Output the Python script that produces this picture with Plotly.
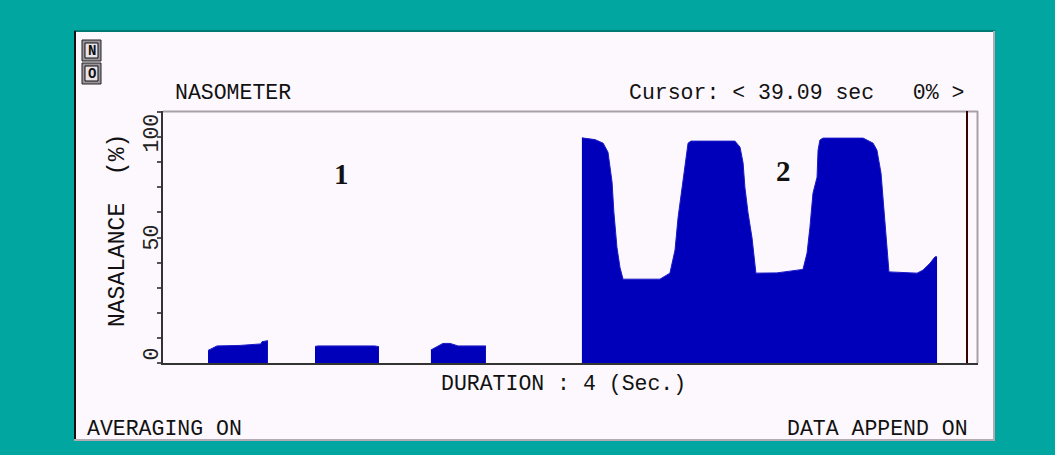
import plotly.graph_objects as go

W, H = 1055, 455

# ---- data (time in seconds, nasalance in %) ----
seg1_t = [0.221, 0.235, 0.265, 0.378, 0.480, 0.486, 0.506, 0.515]
seg1_v = [5.0, 5.5, 6.8, 7.0, 7.6, 8.5, 8.9, 8.9]

seg2_t = [0.746, 0.760, 1.040, 1.060]
seg2_v = [6.6, 6.8, 6.8, 6.5]

seg3_t = [1.315, 1.330, 1.340, 1.374, 1.409, 1.448, 1.472, 1.585]
seg3_v = [5.2, 5.8, 6.5, 7.8, 7.8, 6.8, 6.8, 6.8]

seg4_t = [2.056, 2.120, 2.160, 2.184, 2.204, 2.213, 2.228, 2.243, 2.258, 2.326,
          2.439, 2.488, 2.513, 2.528, 2.547, 2.562, 2.577, 2.591, 2.807, 2.832,
          2.847, 2.856, 2.871, 2.891, 2.901, 2.910, 3.013, 3.141, 3.161, 3.175,
          3.190, 3.210, 3.215, 3.224, 3.239, 3.436, 3.485, 3.504, 3.524, 3.534,
          3.544, 3.553, 3.563, 3.701, 3.730, 3.764, 3.789, 3.799]
seg4_v = [89.7, 89.0, 87.6, 84.0, 72.0, 60.0, 46.0, 38.0, 33.4, 33.4,
          33.4, 35.8, 45.0, 58.0, 70.0, 77.7, 87.6, 88.4, 88.4, 86.0,
          79.7, 70.0, 60.0, 49.8, 41.0, 35.8, 35.9, 37.3, 43.8, 54.0,
          67.6, 74.0, 84.8, 88.8, 89.6, 89.6, 87.6, 84.8, 75.6, 66.0,
          55.7, 46.0, 36.3, 35.8, 37.0, 39.7, 42.3, 42.3]

cursor_t = 3.946
ytick_vals = [0, 50, 100]
ytick_text = ["0", "50", "100"]
segment_labels = ["1", "2"]
segment_label_t = [0.874, 3.043]
segment_label_v = [75.3, 76.5]

BLUE = "#0000BB"
PANEL = "#FDF8FD"
TEAL = "#00A69F"
FONT = "Liberation Mono"
FS = 21.5


def px(x):
    return x / W


def py(y):
    return 1 - y / H


fig = go.Figure()
for t, v in [(seg1_t, seg1_v), (seg2_t, seg2_v), (seg3_t, seg3_v), (seg4_t, seg4_v)]:
    fig.add_trace(go.Scatter(x=t, y=v, mode="lines", fill="tozeroy",
                             fillcolor=BLUE, line=dict(color="#1A1AC8", width=1),
                             hoverinfo="skip", showlegend=False))

shapes = []
# white panel
shapes.append(dict(type="rect", xref="paper", yref="paper", x0=px(74), x1=px(995),
                   y0=py(441), y1=py(30), fillcolor=PANEL, line=dict(width=0), layer="below"))
# panel borders
shapes.append(dict(type="line", xref="paper", yref="paper", x0=px(74), x1=px(995),
                   y0=py(31), y1=py(31), line=dict(color="#007A72", width=2)))
shapes.append(dict(type="line", xref="paper", yref="paper", x0=px(75), x1=px(75),
                   y0=py(441), y1=py(31), line=dict(color="#111111", width=2)))
shapes.append(dict(type="line", xref="paper", yref="paper", x0=px(994), x1=px(994),
                   y0=py(441), y1=py(31), line=dict(color="#B4ACB4", width=2)))
shapes.append(dict(type="line", xref="paper", yref="paper", x0=px(74), x1=px(995),
                   y0=py(440), y1=py(440), line=dict(color="#B4ACB4", width=2)))
# plot box top/right
shapes.append(dict(type="line", xref="paper", yref="paper", x0=px(163), x1=px(978),
                   y0=py(111.5), y1=py(111.5), line=dict(color="#A8A0A8", width=2)))
shapes.append(dict(type="line", xref="paper", yref="paper", x0=px(977.5), x1=px(977.5),
                   y0=py(363), y1=py(111), line=dict(color="#A8A0A8", width=2)))
# cursor
shapes.append(dict(type="line", xref="x", yref="paper", x0=cursor_t, x1=cursor_t,
                   y0=py(363), y1=py(111), line=dict(color="#3A0000", width=2)))
# icons
for y0, y1 in [(40, 61), (63, 84)]:
    shapes.append(dict(type="rect", xref="paper", yref="paper", x0=px(82), x1=px(101),
                       y0=py(y1), y1=py(y0), fillcolor="#9A949A",
                       line=dict(color="#222222", width=1)))
    shapes.append(dict(type="rect", xref="paper", yref="paper", x0=px(85), x1=px(98),
                       y0=py(y1 - 3), y1=py(y0 + 3), fillcolor="#E8E4E8",
                       line=dict(color="#111111", width=1)))

annotations = []


def txt(x, y, s, size=FS, xanchor="left", yanchor="middle", angle=0, color="#111111"):
    annotations.append(dict(xref="paper", yref="paper", x=px(x), y=py(y), text=s,
                            showarrow=False, xanchor=xanchor, yanchor=yanchor,
                            textangle=angle, font=dict(family=FONT, size=size, color=color)))


txt(91.5, 51, "<b>N</b>", size=14, xanchor="center")
txt(91.5, 74, "<b>O</b>", size=14, xanchor="center")
txt(173, 93, "NASOMETER")
txt(966, 93, "Cursor: &lt; 39.09 sec   0% &gt;", xanchor="right")
txt(118, 231, "NASALANCE  (%)", size=23, angle=-90, xanchor="center")
txt(563, 384, "DURATION : 4 (Sec.)", xanchor="center")
txt(85, 429, "AVERAGING ON")
txt(970, 429, "DATA APPEND ON", xanchor="right")

# y tick labels (rotated)
for v, s in zip(ytick_vals, ytick_text):
    ya = "top" if v == max(ytick_vals) else ("bottom" if v == min(ytick_vals) else "middle")
    annotations.append(dict(xref="paper", yref="y", x=px(151), y=v, text=s, showarrow=False,
                            xanchor="center", yanchor=ya, textangle=-90,
                            font=dict(family=FONT, size=FS, color="#222222")))

for s, t, v in zip(segment_labels, segment_label_t, segment_label_v):
    annotations.append(dict(xref="x", yref="y", x=t, y=v, text="<b>" + s + "</b>",
                            showarrow=False, xanchor="center", yanchor="middle",
                            font=dict(family="Liberation Serif", size=29, color="#111111")))

fig.update_layout(
    width=W, height=H,
    margin=dict(l=0, r=0, t=0, b=0),
    paper_bgcolor=TEAL,
    plot_bgcolor=PANEL,
    shapes=shapes,
    annotations=annotations,
    xaxis=dict(domain=[px(163), px(978)], range=[0, 4], showgrid=False, zeroline=False,
               showticklabels=False, ticks="", showline=True, linecolor="#333333",
               linewidth=2, fixedrange=True),
    yaxis=dict(domain=[py(363), py(111)], range=[0, 100.4], showgrid=False, zeroline=False,
               showticklabels=False, ticks="outside", tickmode="linear", tick0=0, dtick=10,
               ticklen=4, tickwidth=2, tickcolor="#555555", showline=True,
               linecolor="#333333", linewidth=2, fixedrange=True),
)

fig.write_html("out.html",
               config={"displayModeBar": False},
               post_script="document.body.style.margin='0';document.body.style.padding='0';"
                           "document.body.style.overflow='hidden';")
